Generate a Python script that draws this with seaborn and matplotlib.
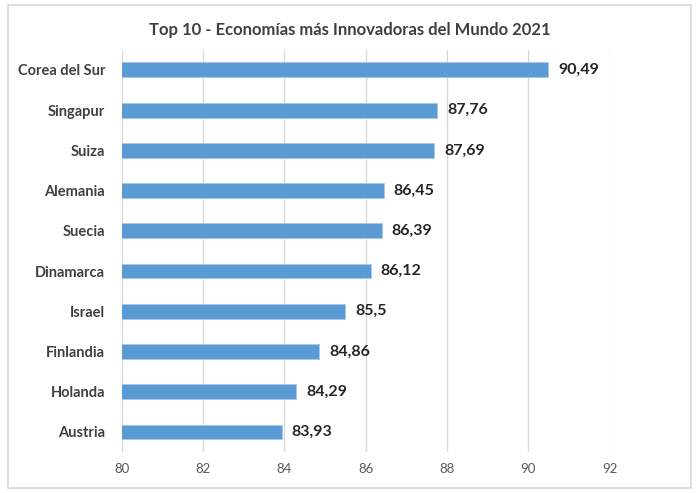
import matplotlib
matplotlib.use("Agg")
import matplotlib.pyplot as plt
import seaborn as sns
import pandas as pd
from matplotlib.patches import Rectangle

paises = ["Corea del Sur", "Singapur", "Suiza", "Alemania", "Suecia",
          "Dinamarca", "Israel", "Finlandia", "Holanda", "Austria"]
valores = [90.49, 87.76, 87.69, 86.45, 86.39, 86.12, 85.5, 84.86, 84.29, 83.93]
ticks_x = [80, 82, 84, 86, 88, 90, 92]

df = pd.DataFrame({"pais": paises, "valor": valores})

sns.set_style("white")
plt.rcParams["font.family"] = ["Lato", "DejaVu Sans"]

fig = plt.figure(figsize=(7, 4.93), dpi=100)
ax = fig.add_axes([0.174, 0.083, 0.697, 0.816])

sns.barplot(data=df, x="valor", y="pais", orient="h", color="#5B9BD5",
            saturation=1, width=0.37, edgecolor="#A9C8EA", linewidth=0.6,
            ax=ax, zorder=3)

ax.set_xlim(80, 92)
ax.set_ylim(9.5, -0.5)
ax.set_xticks(ticks_x)
ax.set_xticklabels([str(t) for t in ticks_x], color="#595959", fontsize=9.5)
ax.grid(axis="x", color="#D9D9D9", linewidth=1, zorder=0)
ax.grid(axis="y", visible=False)
for s in ax.spines.values():
    s.set_visible(False)
ax.tick_params(axis="both", length=0)
ax.tick_params(axis="y", pad=12)
ax.tick_params(axis="x", pad=8)
for lbl in ax.get_yticklabels():
    lbl.set_fontweight("bold")
    lbl.set_color("#404040")
    lbl.set_fontsize(10.5)
ax.set_xlabel("")
ax.set_ylabel("")

# etiquetas de valor con coma decimal
for i, v in enumerate(valores):
    ax.annotate(str(v).replace(".", ","), xy=(v, i), xytext=(7, 0),
                textcoords="offset points", va="center", ha="left",
                fontsize=11.5, fontweight="bold", color="#262626")

fig.suptitle("Top 10 - Economías más Innovadoras del Mundo 2021",
             x=0.5, y=0.955, fontsize=12, fontweight="bold", color="#404040")

fig.patches.append(Rectangle((0.011, 0.01), 0.976, 0.98, transform=fig.transFigure,
                             fill=False, edgecolor="#D9D9D9", linewidth=1.2))

fig.savefig("out.png", dpi=100)
